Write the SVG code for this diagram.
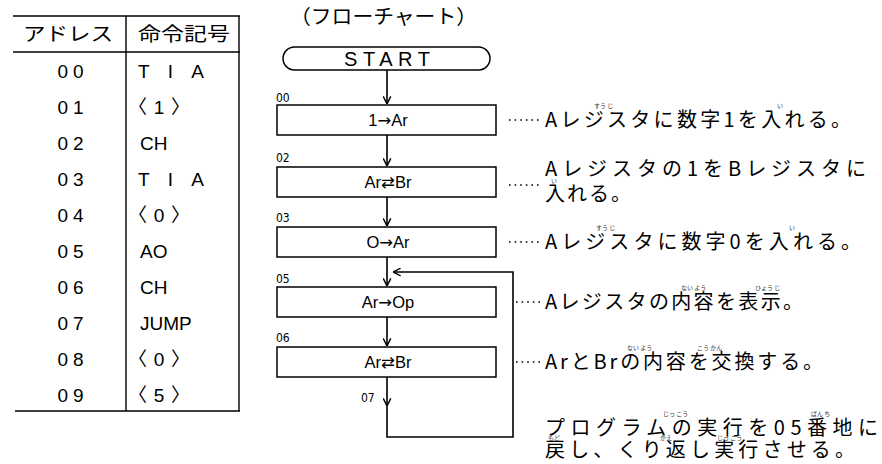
<svg xmlns="http://www.w3.org/2000/svg" width="882" height="464" viewBox="0 0 882 464">
<defs>
<marker id="ah" viewBox="0 0 10 10" refX="9.5" refY="5" markerWidth="9" markerHeight="9" markerUnits="userSpaceOnUse" orient="auto">
<path d="M1,0.8 L9.5,5 L1,9.2" fill="none" stroke="#000" stroke-width="1.6"/>
</marker>
<style>
.ln{stroke:#000;stroke-width:1.4;fill:none}
.bx{stroke:#000;stroke-width:1.5;fill:#fff}
.ar{stroke:#000;stroke-width:1.6;fill:none;marker-end:url(#ah)}
.jp{font-family:"Noto Sans CJK JP","Noto Sans",sans-serif;font-size:20px;fill:#000}
.hd{font-family:"Noto Sans CJK JP","Noto Sans",sans-serif;font-size:19px;fill:#000;text-anchor:middle}
.ad{font-family:"Liberation Sans","DejaVu Sans",sans-serif;font-size:19px;fill:#000;text-anchor:middle;letter-spacing:5px}
.op{font-family:"Liberation Sans","DejaVu Sans","Noto Sans CJK JP",sans-serif;font-size:19px;fill:#000}
.fc{font-family:"Liberation Sans","DejaVu Sans",sans-serif;font-size:16.5px;fill:#000;text-anchor:middle}
.st{font-family:"Liberation Sans","DejaVu Sans",sans-serif;font-size:20px;fill:#000;text-anchor:middle}
.sy{font-family:"DejaVu Sans",sans-serif}
.lb{font-family:"Liberation Sans Narrow","DejaVu Sans Condensed","Liberation Sans",sans-serif;font-stretch:condensed;font-size:12px;fill:#000}
.dt{stroke:#000;stroke-width:1.6;stroke-dasharray:1.6 4;fill:none}
.rb{font-family:"Noto Sans CJK JP",sans-serif;font-size:6px;fill:#333}
</style>
</defs>
<rect width="882" height="464" fill="#fff"/>

<g id="table">
<line class="ln" x1="13" y1="16" x2="240" y2="16"/>
<line class="ln" x1="13" y1="52" x2="240" y2="52"/>
<line class="ln" x1="15" y1="411" x2="240" y2="411"/>
<line class="ln" x1="126" y1="16" x2="126" y2="411"/>
<line class="ln" x1="239" y1="16" x2="239" y2="411" stroke-width="1"/>
<text class="hd" x="68" y="41" textLength="90" lengthAdjust="spacingAndGlyphs">アドレス</text>
<text class="hd" x="184" y="41" textLength="92" lengthAdjust="spacingAndGlyphs">命令記号</text>
<text class="ad" x="73" y="78">00</text>
<text class="ad" x="73" y="114">01</text>
<text class="ad" x="73" y="150">02</text>
<text class="ad" x="73" y="186">03</text>
<text class="ad" x="73" y="222">04</text>
<text class="ad" x="73" y="258">05</text>
<text class="ad" x="73" y="294">06</text>
<text class="ad" x="73" y="330">07</text>
<text class="ad" x="73" y="366">08</text>
<text class="ad" x="73" y="402">09</text>
<text class="op" x="138" y="78" textLength="66" lengthAdjust="spacing">TIA</text>
<text class="op" x="128" y="114" textLength="62" lengthAdjust="spacing">〈1〉</text>
<text class="op" x="140" y="150">CH</text>
<text class="op" x="138" y="186" textLength="66" lengthAdjust="spacing">TIA</text>
<text class="op" x="128" y="222" textLength="62" lengthAdjust="spacing">〈0〉</text>
<text class="op" x="140" y="258">AO</text>
<text class="op" x="140" y="294">CH</text>
<text class="op" x="140" y="330">JUMP</text>
<text class="op" x="128" y="366" textLength="62" lengthAdjust="spacing">〈0〉</text>
<text class="op" x="128" y="402" textLength="62" lengthAdjust="spacing">〈5〉</text>
</g>

<g id="title">
<text class="jp" x="290" y="24" textLength="187" lengthAdjust="spacingAndGlyphs" font-size="17">（フローチャート）</text>
</g>

<g id="start">
<rect class="bx" x="283" y="47" width="207" height="23" rx="11.5"/>
<text class="st" x="387" y="66" textLength="86" lengthAdjust="spacing">START</text>
</g>

<g id="n00">
<text class="lb" x="276" y="102">00</text>
<rect class="bx" x="277" y="105" width="219" height="30"/>
<text class="fc" x="388" y="126">1<tspan class="sy">→</tspan>Ar</text>
</g>
<g id="n02">
<text class="lb" x="276" y="162">02</text>
<rect class="bx" x="277" y="167" width="219" height="30"/>
<text class="fc" x="388" y="188">Ar<tspan class="sy">⇄</tspan>Br</text>
</g>
<g id="n03">
<text class="lb" x="276" y="222">03</text>
<rect class="bx" x="277" y="227" width="219" height="30"/>
<text class="fc" x="388" y="248">O<tspan class="sy">→</tspan>Ar</text>
</g>
<g id="n05">
<text class="lb" x="276" y="283">05</text>
<rect class="bx" x="277" y="287" width="219" height="30"/>
<text class="fc" x="388" y="308">Ar<tspan class="sy">→</tspan>Op</text>
</g>
<g id="n06">
<text class="lb" x="276" y="342">06</text>
<rect class="bx" x="277" y="347" width="219" height="30"/>
<text class="fc" x="388" y="368">Ar<tspan class="sy">⇄</tspan>Br</text>
</g>
<g id="n07">
<text class="lb" x="361" y="402">07</text>
</g>

<g id="connectors">
<line class="ar" x1="387" y1="70" x2="387" y2="104"/>
<line class="ar" x1="387" y1="135" x2="387" y2="166"/>
<line class="ar" x1="387" y1="197" x2="387" y2="226"/>
<line class="ar" x1="387" y1="257" x2="387" y2="286"/>
<line class="ar" x1="387" y1="317" x2="387" y2="346"/>
<line class="ar" x1="387" y1="377" x2="387" y2="406"/>
<polyline class="ar" points="387,406 387,437 513,437 513,272 393,272"/>
</g>

<g id="notes">
<line class="dt" x1="509" y1="120" x2="542" y2="120"/>
<text class="jp" x="545" y="127" textLength="306" lengthAdjust="spacing">Aレジスタに数字1を入れる。</text>
<text class="rb" x="594" y="108">すう じ</text>
<text class="rb" x="777" y="108">い</text>

<line class="dt" x1="509" y1="185" x2="542" y2="185"/>
<text class="jp" x="545" y="176" textLength="321" lengthAdjust="spacing">Aレジスタの1をBレジスタに</text>
<text class="jp" x="545" y="201" textLength="86" lengthAdjust="spacing">入れる。</text>
<text class="rb" x="551" y="183">い</text>

<line class="dt" x1="509" y1="242" x2="542" y2="242"/>
<text class="jp" x="545" y="249" textLength="316" lengthAdjust="spacing">Aレジスタに数字0を入れる。</text>
<text class="rb" x="596" y="230">すう じ</text>
<text class="rb" x="789" y="230">い</text>

<line class="dt" x1="516" y1="302" x2="542" y2="302"/>
<text class="jp" x="545" y="309" textLength="258" lengthAdjust="spacing">Aレジスタの内容を表示。</text>
<text class="rb" x="681" y="290">ない よう</text>
<text class="rb" x="755" y="290">ひょう じ</text>

<line class="dt" x1="516" y1="362" x2="542" y2="362"/>
<text class="jp" x="545" y="369" textLength="278" lengthAdjust="spacing">ArとBrの内容を交換する。</text>
<text class="rb" x="627" y="350">ない よう</text>
<text class="rb" x="697" y="350">こう かん</text>

<text class="jp" x="545" y="435" textLength="333" lengthAdjust="spacing">プログラムの実行を05番地に</text>
<text class="rb" x="663" y="416">じっ こう</text>
<text class="rb" x="811" y="416">ばん ち</text>
<text class="jp" x="545" y="457" textLength="310" lengthAdjust="spacing">戻し、くり返し実行させる。</text>
<text class="rb" x="548" y="440">もど</text>
<text class="rb" x="660" y="440">かえ</text>
<text class="rb" x="717" y="440">じっ こう</text>
</g>
</svg>
